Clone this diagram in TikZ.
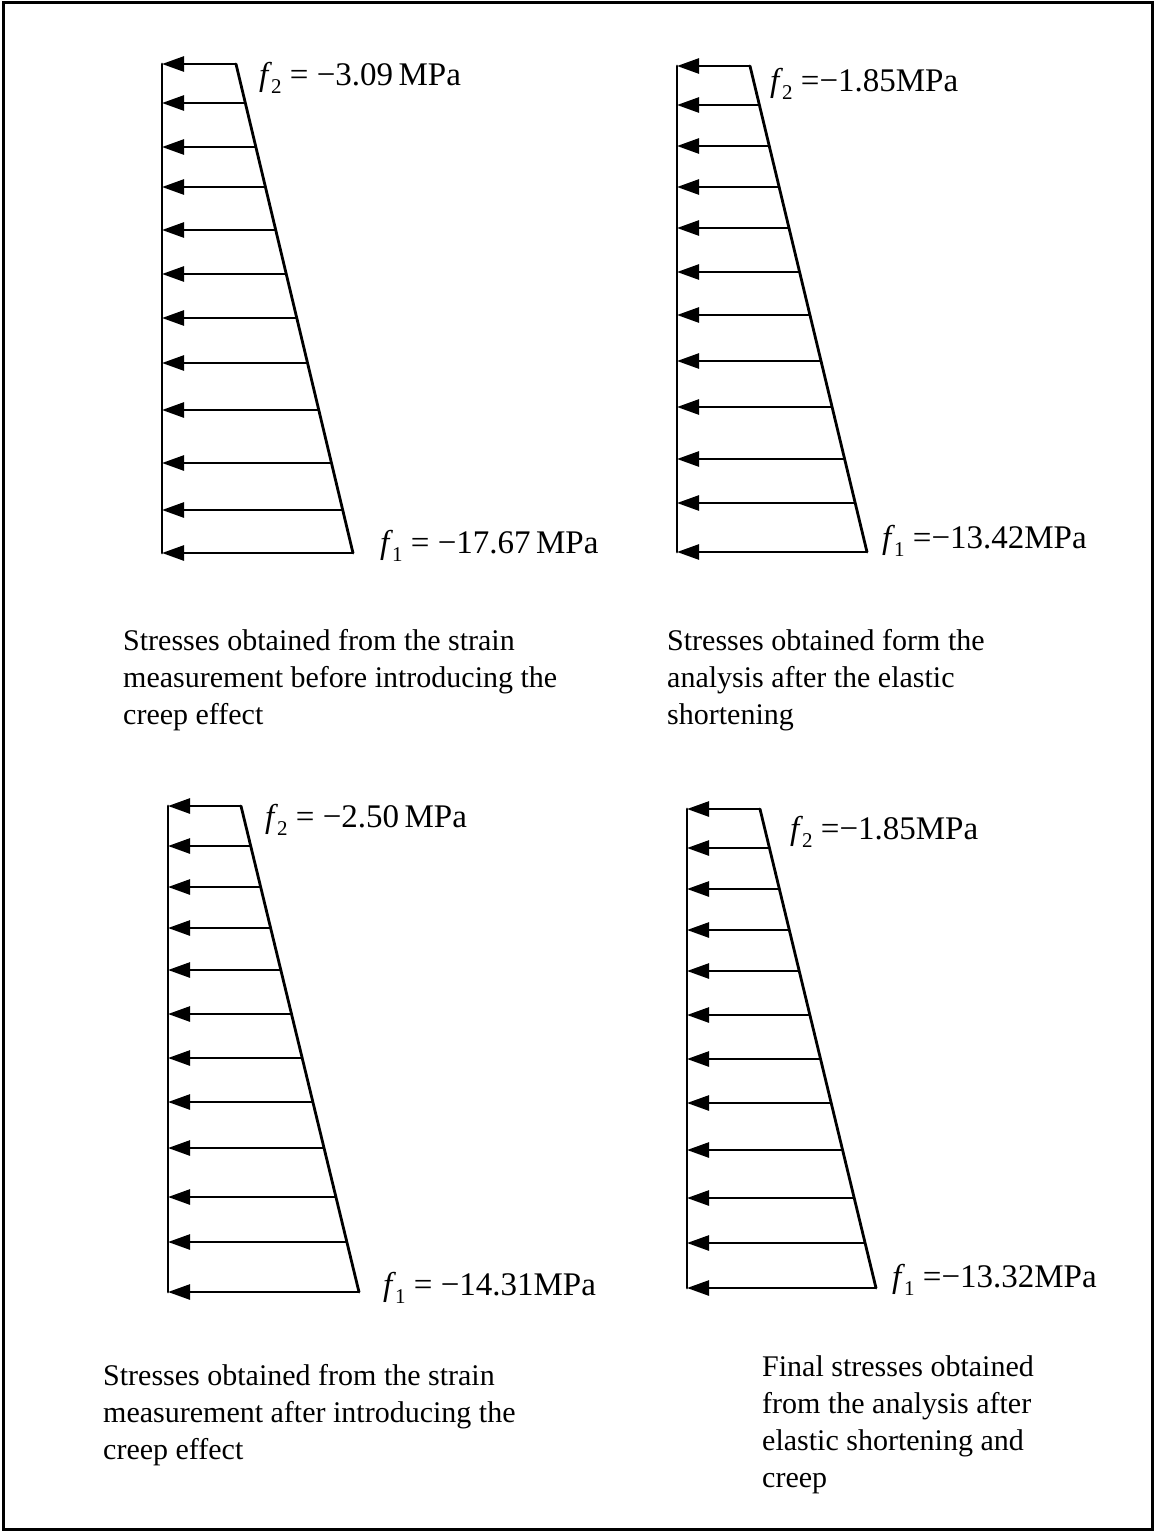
\documentclass[tikz,border=0pt]{standalone}
\usepackage{fontspec}
\setmainfont{Liberation Serif}
\usetikzlibrary{arrows.meta,calc}
\tikzset{
  force/.style={line width=2.6pt, -{Triangle[length=22pt,width=15pt]}},
  wall/.style={line width=2.8pt, line cap=round},
  lbl/.style={anchor=base west, inner sep=0pt, font=\fontsize{33}{40}\selectfont},
  caption/.style={anchor=base west, inner sep=0pt, align=left, font=\fontsize{30}{37}\selectfont},
  frame/.style={line width=3pt},
}
\newcommand\fsub[1]{\textit{f}\kern-1pt\raisebox{-0.25em}{\fontsize{21}{21}\selectfont #1}}
% #1 name, #2 wall x, #3 top corner x, #4 bottom corner x, #5 top y, #6 bottom y, #7 list of y
\newcommand\stressfig[7]{%
  \foreach \yy [count=\n] in {#7} {
    \pgfmathsetmacro\xs{#3+(\yy-#5)/(#6-#5)*(#4-#3)}
    \coordinate (#1-e\n) at (#2,\yy);
    \coordinate (#1-s\n) at (\xs,\yy);
    \draw[force] (#1-s\n) -- (#1-e\n);
  }
  \draw[wall] (#1-e1) -- (#1-e12);
  \draw[wall] (#1-s1) -- (#1-s12);
}
\begin{document}
\begin{tikzpicture}[x=1pt,y=-1pt]
\useasboundingbox (0,0) rectangle (1154,1532);
\draw[frame] (3,2) rectangle (1152,1529);

\stressfig{TL}{162}{236}{353}{64}{553}{64,103,147,187,230,274,318,363,410,463,510,553}
\stressfig{TR}{677}{750}{867}{66}{552}{66,105,146,187,228,272,315,361,407,459,503,552}
\stressfig{BL}{168}{241}{359}{806}{1292}{806,846,887,928,970,1014,1058,1102,1148,1197,1242,1292}
\stressfig{BR}{687}{760}{876}{809}{1288}{809,848,889,930,971,1015,1059,1103,1150,1198,1243,1288}

\node[lbl] (TLf2) at (259,85) {\fsub{2} = −3.09\,MPa};
\node[lbl] (TLf1) at (380,553) {\fsub{1} = −17.67\,MPa};
\node[lbl] (TRf2) at (770,91) {\fsub{2} =−1.85MPa};
\node[lbl] (TRf1) at (882,548) {\fsub{1} =−13.42MPa};
\node[lbl] (BLf2) at (265,827) {\fsub{2} = −2.50\,MPa};
\node[lbl] (BLf1) at (383,1295) {\fsub{1} = −14.31MPa};
\node[lbl] (BRf2) at (790,839) {\fsub{2} =−1.85MPa};
\node[lbl] (BRf1) at (892,1287) {\fsub{1} =−13.32MPa};

% base anchor of a multi-line node sits on its last line
\node[caption] (TLc) at (123,724) {Stresses obtained from the strain\\measurement before introducing the\\creep effect};
\node[caption] (TRc) at (667,724) {Stresses obtained form the\\analysis after the elastic\\shortening};
\node[caption] (BLc) at (103,1459) {Stresses obtained from the strain\\measurement after introducing the\\creep effect};
\node[caption] (BRc) at (762,1487) {Final stresses obtained\\from the analysis after\\elastic shortening and\\creep};
\end{tikzpicture}
\end{document}
